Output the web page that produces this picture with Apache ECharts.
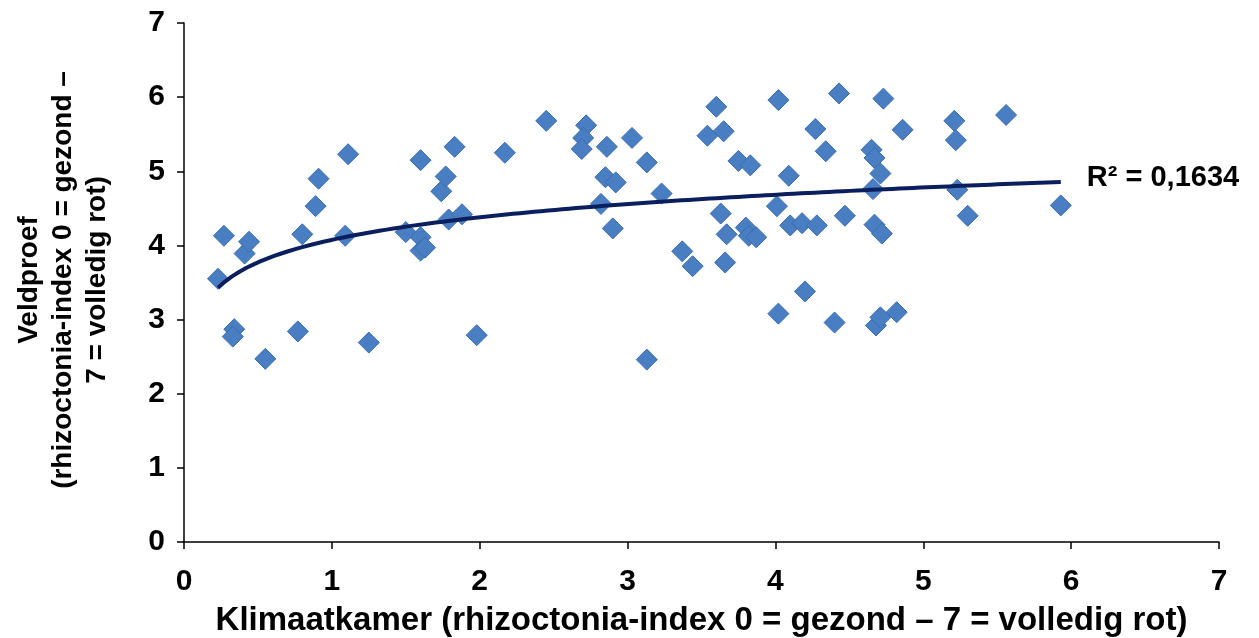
<!DOCTYPE html>
<html>
<head>
<meta charset="utf-8">
<script src="https://cdn.jsdelivr.net/npm/echarts@6/dist/echarts.min.js"></script>
<style>html,body{margin:0;padding:0;background:#fff}#c{width:1259px;height:638px}</style>
</head>
<body>
<div id="c"></div>
<script>
// Klimaatkamer (x) vs Veldproef (y) rhizoctonia-index
const xValues = [0.23,0.27,0.34,0.33,0.41,0.44,0.55,0.77,0.80,0.89,0.91,1.09,1.11,1.25,1.50,1.60,1.60,1.60,1.63,1.74,1.77,1.79,1.83,1.88,1.98,2.17,
  2.45,2.72,2.70,2.69,2.86,3.03,3.13,2.85,2.92,2.82,3.23,2.90,3.60,3.54,3.65,3.75,3.83,3.63,3.67,3.80,3.82,3.87,3.37,3.44,3.66,3.13,
  4.02,4.43,4.73,4.27,4.34,4.86,4.65,4.67,4.71,4.66,5.21,5.22,5.23,5.56,5.93,4.09,4.01,4.10,4.18,4.28,4.47,4.67,4.72,5.30,4.20,4.02,4.40,4.68,4.71,4.82];
const yValues = [3.55,4.13,2.87,2.77,3.89,4.05,2.47,2.84,4.15,4.53,4.90,4.13,5.23,2.69,4.18,5.15,4.11,3.93,3.97,4.73,4.93,4.35,5.33,4.42,2.79,5.25,
  5.68,5.62,5.45,5.30,5.33,5.45,5.12,4.92,4.85,4.56,4.70,4.23,5.87,5.48,5.54,5.14,5.08,4.43,4.15,4.24,4.13,4.11,3.92,3.72,3.77,2.46,
  5.96,6.05,5.98,5.57,5.27,5.56,5.29,5.18,4.97,4.76,5.68,5.42,4.75,5.76,4.54,4.94,4.53,4.27,4.30,4.27,4.40,4.28,4.16,4.40,3.38,3.08,2.96,2.92,3.03,3.10];
const axisMin = 0;
const axisMax = 7;
const axisStep = 1;
const xTitle = 'Klimaatkamer (rhizoctonia-index 0 = gezond \u2013 7 = volledig rot)';
const yTitleLines = ['Veldproef', '(rhizoctonia-index 0 = gezond \u2013', '7 = volledig rot)'];
const r2Text = 'R\u00b2 = 0,1634';

// scatter points
const points = xValues.map((x, i) => [x, yValues[i]]);

// logarithmic trendline (least squares on ln x), as in the spreadsheet
const lx = xValues.map(Math.log);
const n = lx.length;
const mx = lx.reduce((a, b) => a + b, 0) / n;
const my = yValues.reduce((a, b) => a + b, 0) / n;
let sxy = 0, sxx = 0;
for (let i = 0; i < n; i++) { sxy += (lx[i] - mx) * (yValues[i] - my); sxx += (lx[i] - mx) * (lx[i] - mx); }
const slope = sxy / sxx;
const icpt = my - slope * mx;
const xLo = Math.min(...xValues), xHi = Math.max(...xValues);
const trend = [];
const steps = 120;
for (let k = 0; k <= steps; k++) {
  const x = xLo + (xHi - xLo) * k / steps;
  trend.push([x, icpt + slope * Math.log(x)]);
}

const FONT = '"Liberation Sans", Arial, sans-serif';
const chart = echarts.init(document.getElementById('c'), null, {renderer: 'canvas'});
chart.setOption({
  backgroundColor: '#ffffff',
  animation: false,
  grid: {left: 184, right: 40, top: 23, bottom: 96, containLabel: false, outerBoundsMode: 'none'},
  xAxis: {
    type: 'value', min: axisMin, max: axisMax, interval: axisStep,
    axisLine: {show: true, onZero: false, lineStyle: {color: '#000', width: 1.5}},
    axisTick: {show: true, inside: false, length: 7, lineStyle: {color: '#000', width: 1.5}},
    splitLine: {show: false},
    axisLabel: {color: '#000', fontSize: 30, fontWeight: 'bold', fontFamily: FONT, margin: 25},
    name: xTitle, nameLocation: 'middle', nameGap: 62,
    nameTextStyle: {color: '#000', fontSize: 33, fontWeight: 'bold', fontFamily: FONT}
  },
  yAxis: {
    type: 'value', min: axisMin, max: axisMax, interval: axisStep,
    axisLine: {show: true, onZero: false, lineStyle: {color: '#000', width: 1.5}},
    axisTick: {show: true, inside: false, length: 7, lineStyle: {color: '#000', width: 1.5}},
    splitLine: {show: false},
    axisLabel: {color: '#000', fontSize: 30, fontWeight: 'bold', fontFamily: FONT, margin: 19}
  },
  graphic: [{
    type: 'text', x: 63, y: 280, rotation: Math.PI / 2,
    style: {
      text: yTitleLines.join('\n'), fill: '#000',
      font: 'bold 28px ' + FONT, lineHeight: 34,
      textAlign: 'center', textVerticalAlign: 'middle'
    }
  }],
  series: [{
    type: 'scatter', data: points, symbol: 'diamond', symbolSize: 21,
    itemStyle: {color: '#4a7ec2', borderColor: '#3a6cae', borderWidth: 1, opacity: 1},
    z: 2
  }, {
    type: 'line', data: trend, showSymbol: false, symbol: 'none', smooth: false,
    lineStyle: {color: '#0b1f5e', width: 4},
    z: 3,
    endLabel: {
      show: true, formatter: r2Text, distance: 26, offset: [0, -4],
      color: '#000', fontSize: 29, fontWeight: 'bold', fontFamily: FONT
    }
  }]
});
</script>
</body>
</html>
